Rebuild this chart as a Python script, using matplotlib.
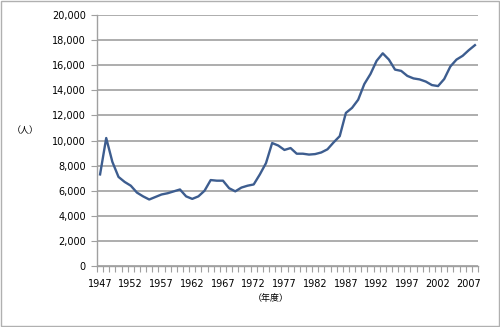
import matplotlib
matplotlib.use("Agg")
import matplotlib.pyplot as plt
import numpy as np

plt.rcParams['font.family'] = ['Noto Sans CJK JP', 'DejaVu Sans']

years = list(range(1947, 2009))
values = [7300, 10200, 8300, 7100, 6700, 6400, 5850, 5550, 5300, 5500,
          5700, 5800, 5950, 6100, 5550, 5350, 5550, 6000, 6850, 6800,
          6800, 6200, 5950, 6250, 6400, 6500, 7300, 8200, 9800, 9600,
          9250, 9400, 8950, 8950, 8880, 8920, 9050, 9300, 9850, 10350,
          12200, 12600, 13250, 14500, 15300, 16350, 16950, 16450, 15650, 15550,
          15150, 14950, 14870, 14700, 14420, 14340, 14900, 15900, 16450, 16750,
          17200, 17600]
y_ticks = list(range(0, 20001, 2000))
x_label_years = list(range(1947, 2008, 5))
y_unit = "（人）"
x_unit = "（年度）"

fig = plt.figure(figsize=(5.0, 3.27), dpi=100)
fig.patch.set_facecolor('white')
border = plt.Rectangle((0.002, 0.003), 0.995, 0.994, transform=fig.transFigure,
                       fill=False, edgecolor='#b0b0b0', linewidth=1.0)
fig.add_artist(border)

ax = fig.add_axes([0.194, 0.1865, 0.762, 0.7675])
x = np.arange(len(years))
ax.plot(x, values, color='#3d5d8f', linewidth=1.7, solid_joinstyle='round')

ax.set_xlim(-0.5, len(years) - 0.5)
ax.set_ylim(0, 20000)

ax.set_yticks(y_ticks)
ax.set_yticklabels([f"{v:,}" for v in y_ticks], fontsize=7, family='DejaVu Sans')
ax.yaxis.grid(True, color='#a0a0a0', linewidth=1.2)
ax.set_axisbelow(True)

ax.set_xticks([years.index(y) for y in x_label_years])
ax.set_xticklabels([str(y) for y in x_label_years], fontsize=7, family='DejaVu Sans')
ax.set_xticks(np.arange(-0.5, len(years)), minor=True)
ax.tick_params(axis='x', which='major', length=0, pad=9)
ax.tick_params(axis='x', which='minor', length=4, color='#a0a0a0', width=0.8, direction='out')
ax.tick_params(axis='y', which='major', length=4, color='#a0a0a0', width=0.8, pad=4)

for s in ['top', 'right']:
    ax.spines[s].set_visible(False)
for s in ['left', 'bottom']:
    ax.spines[s].set_color('#a0a0a0')
    ax.spines[s].set_linewidth(1.0)

fig.text(0.05, 0.6, y_unit, fontsize=6.5, ha='center', va='center')
fig.text(0.542, 0.088, x_unit, fontsize=6.5, ha='center', va='center')

fig.savefig('out.png', dpi=100, facecolor='white')
